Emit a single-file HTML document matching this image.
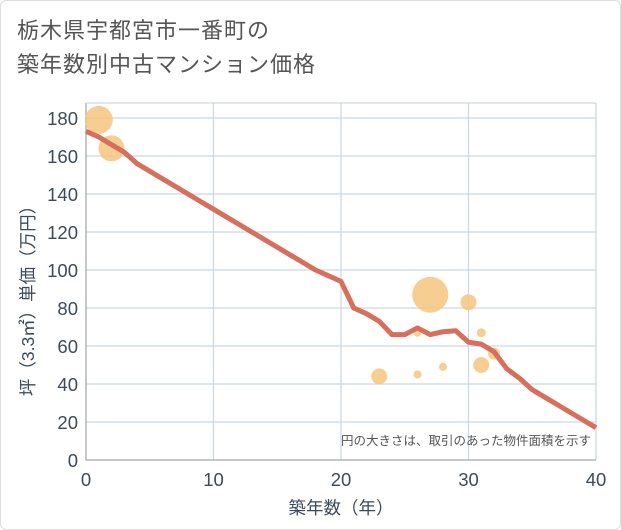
<!DOCTYPE html>
<html><head><meta charset="utf-8"><style>
body{margin:0;background:#fff;font-family:"Liberation Sans","Noto Sans CJK JP",sans-serif}
#wrap{position:relative;width:619px;height:528px;border:1px solid #ddd;border-radius:6px;overflow:hidden}
#title{position:absolute;left:16px;top:13px;font-size:22px;line-height:34px;color:#555;letter-spacing:1px}
</style></head><body>
<div id="wrap">
<div id="title">栃木県宇都宮市一番町の<br>築年数別中古マンション価格</div>
<svg id="c" width="621" height="530" style="position:absolute;left:-1px;top:-1px"></svg>
</div>
<script>
const years=[0,1,2,3,4,5,6,7,8,9,10,11,12,13,14,15,16,17,18,19,20,21,22,23,24,25,26,27,28,29,30,31,32,33,34,35,36,37,38,39,40];
const prices=[173,170,166,162,156,152,148,144,140,136,132,128,124,120,116,112,108,104,100,97,94,80,77,73,66,66,69.5,66,67.5,68,62,61,57,48,43,37,33,29,25,21,17];
const bubbleX=[1,2,27,30,23,26,28,31,31,32,26];
const bubbleY=[179,164,87,83,44,45,49,67,50,56,67];
const bubbleR=[14,13,18,8,8,4,4,4.5,8,6,4];
const yTicks=[0,20,40,60,80,100,120,140,160,180];
const xTicks=[0,10,20,30,40];
const L=86,R=596,T=103,B=460;
const sx=v=>L+(v-0)/40*(R-L);
const sy=v=>B-v/180*(B-118);
const svg=document.getElementById('c');
const NS='http://www.w3.org/2000/svg';
function mk(t,a,txt){const e=document.createElementNS(NS,t);for(const k in a)e.setAttribute(k,a[k]);if(txt!=null)e.textContent=txt;svg.appendChild(e);return e;}
yTicks.forEach(v=>{
 const g=mk('line',{x1:L,x2:R,y1:sy(v),y2:sy(v),stroke:'#c9d7e6','stroke-width':1.2});
 
 
 const t=mk('text',{x:L-8,y:sy(v)+7,'text-anchor':'end','font-size':18.5,fill:'#3b4a5c'},v);
 
 
});
xTicks.forEach(v=>{
 const g=mk('line',{x1:sx(v),x2:sx(v),y1:T,y2:B,stroke:'#c9d7e6','stroke-width':1.2});
 
 
 const t=mk('text',{x:sx(v),y:B+26,'text-anchor':'middle','font-size':18.5,fill:'#3b4a5c'},v);
 
 
});
const ax=mk('path',{d:`M${L},${T}V${B}H${R}`,fill:'none',stroke:'#999','stroke-width':1});


const tp=mk('line',{x1:L,x2:R,y1:T,y2:T,stroke:'#ccc'});


bubbleX.forEach((x,i)=>{
 const c=mk('circle',{cx:sx(x),cy:sy(bubbleY[i]),r:bubbleR[i],fill:'#f5c57f','fill-opacity':0.85});
 
 
});
const line=mk('polyline',{points:years.map((y,i)=>sx(y)+','+sy(prices[i])).join(' '),fill:'none',stroke:'#d66f5c','stroke-width':5,'stroke-linejoin':'round'});


const n=mk('text',{x:591,y:445,'text-anchor':'end','font-size':12.5,fill:'#555'},'円の大きさは、取引のあった物件面積を示す');


const xt=mk('text',{x:(L+R)/2,y:514,'text-anchor':'middle','font-size':17.5,fill:'#3b4a5c'},'築年数（年）');


const yt=mk('text',{x:0,y:0,'text-anchor':'middle','font-size':17.5,fill:'#3b4a5c',transform:`translate(34,${(T+B)/2+15}) rotate(-90)`},'坪（3.3㎡）単価（万円）');


</script>
</body></html>
